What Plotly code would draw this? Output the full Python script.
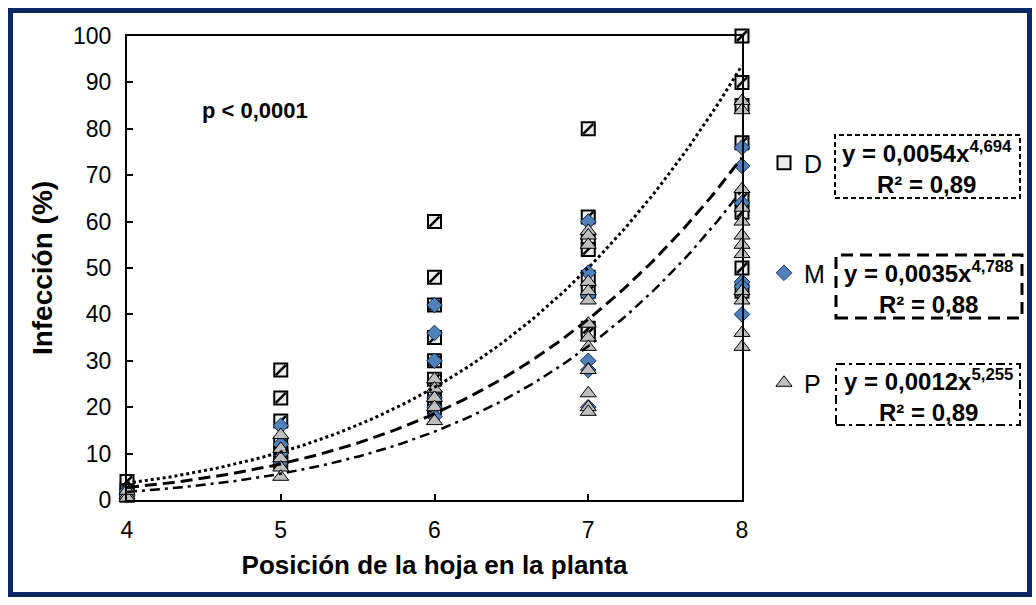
import plotly.graph_objects as go
import numpy as np

# ---- data ----
d_x = [4, 4, 4, 5, 5, 5, 5, 5, 5, 6, 6, 6, 6, 6, 6, 6, 6, 7, 7, 7, 7, 7, 7, 7, 7, 8, 8, 8, 8, 8, 8, 8, 8]
d_y = [4, 2, 1, 28, 22, 17, 12, 10, 8, 60, 48, 42, 35, 30, 26, 22, 20, 80, 61, 56, 54, 48, 45, 37, 36, 100, 90, 85, 77, 65, 62, 50, 45]

m_x = [4, 4, 4, 5, 5, 5, 5, 6, 6, 6, 6, 6, 6, 7, 7, 7, 7, 7, 7, 8, 8, 8, 8, 8, 8]
m_y = [2, 1.5, 1, 16, 12, 10, 8, 42, 36, 30, 22, 20, 18, 60, 49, 44, 30, 28, 20, 76, 72, 64, 47, 46, 40]

p_x = [4, 4, 4, 5, 5, 5, 5, 5, 6, 6, 6, 6, 6, 7, 7, 7, 7, 7, 7, 7, 7, 7, 7, 7, 7, 7,
       8, 8, 8, 8, 8, 8, 8, 8, 8, 8, 8, 8]
p_y = [1, 0.5, 2, 14, 11, 9, 7, 5, 26, 24, 22, 20, 17, 58, 57, 55, 47, 45, 43, 38, 35, 33, 28, 23, 20, 19,
       86, 84, 67, 63, 60, 57, 55, 53, 45, 43, 36, 33]

series_names = ["D", "M", "P"]
fit_a = [0.0054, 0.0035, 0.0012]
fit_b = [4.694, 4.788, 5.255]
fit_r2 = ["0,89", "0,88", "0,89"]
fit_a_txt = ["0,0054", "0,0035", "0,0012"]
fit_b_txt = ["4,694", "4,788", "5,255"]

x_ticks = [4, 5, 6, 7, 8]
y_ticks = list(range(0, 101, 10))

FONT = "Liberation Sans, Arial, sans-serif"

fig = go.Figure()

# D squares (hatched)
fig.add_trace(go.Scatter(x=d_x, y=d_y, mode="markers", name="D", legendgroup="D",
                         marker=dict(symbol="square", size=13, color="#ececec",
                                     line=dict(color="black", width=2)),
                         cliponaxis=False))
fig.add_trace(go.Scatter(x=d_x, y=d_y, mode="markers", name="D", legendgroup="D", showlegend=False,
                         marker=dict(symbol="line-ne", size=10,
                                     line=dict(color="black", width=2.5)),
                         cliponaxis=False, hoverinfo="skip"))
# M diamonds
fig.add_trace(go.Scatter(x=m_x, y=m_y, mode="markers", name="M", legendgroup="M",
                         marker=dict(symbol="diamond", size=12, color="#4f81bd",
                                     line=dict(color="#1a2a44", width=1)),
                         cliponaxis=False))
# P triangles
fig.add_trace(go.Scatter(x=p_x, y=p_y, mode="markers", name="P", legendgroup="P",
                         marker=dict(symbol="triangle-up", size=14, color="#bfbfbf",
                                     line=dict(color="black", width=1)),
                         cliponaxis=False))

# trend lines (power fits shown in chart)
xs = np.linspace(4, 8, 120)
dashes = ["dot", "12px,6px", "10px,5px,3px,5px"]
widths = [3, 3, 2.5]
for a, b, dsh, w in zip(fit_a, fit_b, dashes, widths):
    fig.add_trace(go.Scatter(x=xs, y=a * xs ** b, mode="lines", showlegend=False,
                             line=dict(color="black", width=w, dash=dsh), hoverinfo="skip"))

# plot geometry helpers (paper coordinates)
L, R, T, B = 127, 742, 36, 500
def px(x):
    return (x - L) / (R - L)
def py(y):
    return (B - y) / (B - T)

shapes = []
# outer navy frame
shapes.append(dict(type="rect", xref="paper", yref="paper",
                   x0=px(10.5), x1=px(1029.5), y0=py(594.5), y1=py(10.5),
                   line=dict(color="#0b2a66", width=5), layer="below"))

boxes = [(835, 1020, 135, 198, "5px,3px", 2),
         (836, 1022, 255, 318, "12px,7px", 3),
         (836, 1020, 364, 425, "9px,4px,3px,4px", 2)]
annotations = []
for (x0, x1, y0, y1, dsh, w), a_t, b_t, r2 in zip(boxes, fit_a_txt, fit_b_txt, fit_r2):
    shapes.append(dict(type="rect", xref="paper", yref="paper",
                       x0=px(x0), x1=px(x1), y0=py(y1), y1=py(y0),
                       line=dict(color="black", width=w, dash=dsh)))
    annotations.append(dict(xref="paper", yref="paper", x=px((x0 + x1) / 2), y=py((y0 + y1) / 2 + 1),
                            xanchor="center", yanchor="middle",
                            text=f"<b>y = {a_t}x<sup>{b_t}</sup><br>R² = {r2}</b>",
                            showarrow=False, align="center",
                            font=dict(family=FONT, size=24, color="black")))

annotations.append(dict(xref="x", yref="y", x=4.83, y=84, xanchor="center", yanchor="middle",
                        text="<b>p < 0,0001</b>",
                        showarrow=False, font=dict(family=FONT, size=22, color="black")))

fig.update_layout(
    width=1036, height=605,
    margin=dict(l=L, r=1036 - R, t=T, b=605 - B),
    paper_bgcolor="white", plot_bgcolor="white",
    font=dict(family=FONT, size=22, color="black"),
    shapes=shapes, annotations=annotations,
    legend=dict(x=px(764), y=py(140), xanchor="left", yanchor="top",
                font=dict(family=FONT, size=25, color="black"),
                tracegroupgap=74.5, itemwidth=30, bgcolor="rgba(0,0,0,0)"),
    xaxis=dict(range=[4, 8], tickvals=x_ticks, ticktext=[str(v) for v in x_ticks],
               showgrid=False, zeroline=False, showline=True, linecolor="black", linewidth=2,
               mirror=True, ticks="inside", ticklen=6, tickwidth=1.5, tickcolor="black",
               tickfont=dict(size=23), ticklabelstandoff=8,
               title=dict(text="<b>Posición de la hoja en la planta</b>", font=dict(size=26), standoff=14)),
    yaxis=dict(range=[0, 100], tickvals=y_ticks,
               showgrid=False, zeroline=False, showline=True, linecolor="black", linewidth=2,
               mirror=True, ticks="inside", ticklen=6, tickwidth=1.5, tickcolor="black",
               tickfont=dict(size=23), ticklabelstandoff=9,
               title=dict(text="<b>Infección (%)</b>", font=dict(size=28), standoff=12)),
)

fig.write_html("out.html")
